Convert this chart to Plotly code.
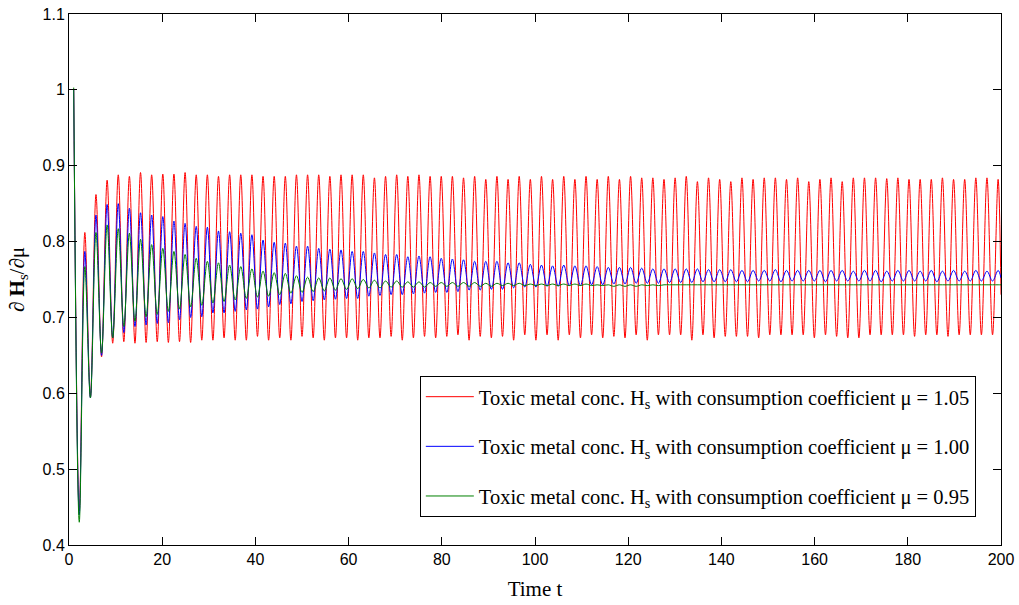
import plotly.graph_objects as go

# ---- Data ----
# Extrema (peaks and troughs) alternate on a regular time grid
FIRST_T = 1.01        # time of first extremum (initial value)
HALF_PERIOD = 1.195   # time between a peak and the next trough
END_T = 200.0

# mu = 1.05 (red)
red_peaks = [1.000, 0.812, 0.862, 0.881, 0.888, 0.886, 0.891, 0.888, 0.889, 0.889, 0.891, 0.888, 0.888,
             0.886, 0.888, 0.888, 0.888, 0.886, 0.886, 0.886, 0.888, 0.888, 0.888, 0.886, 0.888, 0.888,
             0.888, 0.884, 0.886, 0.888, 0.886, 0.888, 0.886, 0.886,
             0.886, 0.884, 0.886, 0.882, 0.886, 0.882, 0.886, 0.882, 0.886, 0.882, 0.886, 0.882, 0.886,
             0.882, 0.886, 0.882, 0.886, 0.884, 0.884, 0.882, 0.884, 0.886, 0.879, 0.884, 0.882, 0.879,
             0.884,
             0.882, 0.884, 0.884, 0.882, 0.884, 0.879, 0.882, 0.884, 0.879, 0.884, 0.884, 0.884, 0.883,
             0.884, 0.882, 0.882, 0.882, 0.884, 0.882, 0.882, 0.884, 0.884, 0.882]
red_troughs = [0.445, 0.595, 0.648, 0.666, 0.668, 0.666, 0.667, 0.668, 0.667, 0.668, 0.667,
               0.670, 0.670, 0.673, 0.670, 0.670, 0.675, 0.670, 0.673, 0.670, 0.675, 0.673, 0.670,
               0.673, 0.673, 0.670, 0.673, 0.673, 0.675, 0.670, 0.673, 0.675, 0.673, 0.675,
               0.677, 0.670, 0.675, 0.673, 0.675, 0.670, 0.677, 0.670, 0.677, 0.670, 0.677, 0.673,
               0.677, 0.673, 0.675, 0.673, 0.677, 0.670, 0.677, 0.677, 0.677, 0.670, 0.677, 0.673,
               0.675, 0.675, 0.675,
               0.673, 0.677, 0.677, 0.677, 0.677, 0.673, 0.677, 0.675, 0.673, 0.673, 0.677, 0.677,
               0.677, 0.677, 0.675, 0.677, 0.677, 0.675, 0.677, 0.677, 0.677, 0.677]
red_end = 0.730

# mu = 1.00 (blue)
blue_peaks = [1.000, 0.787, 0.835, 0.849, 0.850, 0.844, 0.838, 0.835, 0.833, 0.827, 0.824, 0.820, 0.819,
              0.814, 0.813, 0.811, 0.809, 0.802, 0.799, 0.798, 0.794, 0.794, 0.791, 0.790, 0.789, 0.787,
              0.787, 0.785, 0.783, 0.783, 0.780, 0.781, 0.780, 0.778,
              0.777, 0.776, 0.774, 0.774, 0.774, 0.772, 0.772, 0.770, 0.769, 0.768, 0.769, 0.768, 0.768,
              0.767, 0.766, 0.766, 0.766, 0.765, 0.764, 0.764, 0.764, 0.764, 0.764, 0.763, 0.763, 0.763,
              0.762,
              0.762, 0.762, 0.763, 0.762, 0.762, 0.762, 0.762, 0.762, 0.762, 0.761, 0.762, 0.762, 0.761,
              0.762, 0.762, 0.761, 0.762, 0.761, 0.762, 0.761, 0.762, 0.761, 0.762]
blue_troughs = [0.440, 0.594, 0.650, 0.673, 0.680, 0.688, 0.690, 0.692, 0.693, 0.697, 0.700,
                0.701, 0.706, 0.706, 0.708, 0.710, 0.711, 0.714, 0.717, 0.718, 0.721, 0.722, 0.723,
                0.724, 0.725, 0.725, 0.728, 0.729, 0.730, 0.730, 0.731, 0.732, 0.733, 0.733,
                0.734, 0.736, 0.736, 0.737, 0.737, 0.739, 0.740, 0.740, 0.741, 0.741, 0.742, 0.742,
                0.743, 0.743, 0.744, 0.744, 0.745, 0.745, 0.745, 0.746, 0.746, 0.746, 0.747, 0.747,
                0.747, 0.747, 0.747,
                0.748, 0.748, 0.747, 0.748, 0.748, 0.748, 0.747, 0.748, 0.748, 0.748, 0.748, 0.747,
                0.748, 0.748, 0.748, 0.748, 0.747, 0.748, 0.748, 0.748, 0.748, 0.748]
blue_end = 0.752

# mu = 0.95 (green)
green_peaks = [1.003, 0.767, 0.812, 0.822, 0.817, 0.811, 0.803, 0.796, 0.791, 0.787, 0.783, 0.778, 0.774,
               0.772, 0.769, 0.767, 0.764, 0.761, 0.759, 0.758, 0.755, 0.753, 0.752, 0.752, 0.751, 0.751,
               0.750, 0.749, 0.748, 0.748, 0.747, 0.747, 0.746, 0.746,
               0.746, 0.746, 0.746, 0.745, 0.745, 0.745, 0.745, 0.744, 0.744, 0.744, 0.744, 0.744, 0.744,
               0.743, 0.743, 0.743, 0.743, 0.743, 0.743, 0.743, 0.743, 0.743, 0.743, 0.743, 0.743, 0.743,
               0.743, 0.743, 0.743, 0.743, 0.743, 0.743, 0.743, 0.743, 0.743, 0.743, 0.743, 0.743, 0.743,
               0.743, 0.743, 0.743, 0.743, 0.743, 0.743, 0.743, 0.743, 0.743, 0.743, 0.743]
green_troughs = [0.430, 0.594, 0.653, 0.673, 0.688, 0.695, 0.701, 0.704, 0.708, 0.711, 0.714,
                 0.716, 0.719, 0.721, 0.723, 0.725, 0.727, 0.728, 0.730, 0.732, 0.733, 0.734, 0.735,
                 0.736, 0.737, 0.738, 0.739, 0.739, 0.740, 0.740, 0.740, 0.740, 0.741, 0.741,
                 0.741, 0.741, 0.741, 0.741, 0.742, 0.742, 0.742, 0.742, 0.742, 0.742, 0.742, 0.742,
                 0.742, 0.742, 0.741, 0.741, 0.741, 0.742, 0.742, 0.743, 0.743, 0.743, 0.743, 0.743,
                 0.743, 0.743, 0.743, 0.743, 0.743, 0.743, 0.743, 0.743, 0.743, 0.743, 0.743, 0.743,
                 0.743, 0.743, 0.743, 0.743, 0.743, 0.743, 0.743, 0.743, 0.743, 0.743, 0.743, 0.743,
                 0.743]
green_end = 0.743

series_names = [
    "Toxic metal conc. H<sub>s</sub> with consumption coefficient \u03bc = 1.05",
    "Toxic metal conc. H<sub>s</sub> with consumption coefficient \u03bc = 1.00",
    "Toxic metal conc. H<sub>s</sub> with consumption coefficient \u03bc = 0.95",
]
series_colors = ["#ff0000", "#0000ff", "#008000"]

x_ticks = [0, 20, 40, 60, 80, 100, 120, 140, 160, 180, 200]
y_ticks = [0.4, 0.5, 0.6, 0.7, 0.8, 0.9, 1.0, 1.1]
y_tick_text = ["0.4", "0.5", "0.6", "0.7", "0.8", "0.9", "1", "1.1"]


def build(peaks, troughs, end_val):
    ys = []
    for i in range(len(peaks) + len(troughs)):
        ys.append(peaks[i // 2] if i % 2 == 0 else troughs[i // 2])
    ts = [FIRST_T + i * HALF_PERIOD for i in range(len(ys))]
    ts.append(END_T)
    ys.append(end_val)
    return ts, ys


fig = go.Figure()
data = [(red_peaks, red_troughs, red_end),
        (blue_peaks, blue_troughs, blue_end),
        (green_peaks, green_troughs, green_end)]
for (p, tr, e), name, col in zip(data, series_names, series_colors):
    t, y = build(p, tr, e)
    fig.add_trace(go.Scatter(x=t, y=y, mode="lines", name=name, legendgroup=name,
                             line=dict(color=col, width=1, shape="spline", smoothing=1.0)))

axis_common = dict(showline=True, linecolor="black", linewidth=1, mirror="allticks",
                   ticks="inside", ticklen=8, tickcolor="black", showgrid=False, zeroline=False,
                   automargin=False,
                   tickfont=dict(family="Liberation Sans, Arial", size=16, color="black"))

fig.update_xaxes(range=[0, 200], tickvals=x_ticks,
                 title=dict(text="Time t", font=dict(family="Liberation Serif, Times New Roman", size=21, color="black"), standoff=14),
                 **axis_common)
fig.update_yaxes(range=[0.4, 1.1], tickvals=y_ticks, ticktext=y_tick_text,
                 title=dict(text="\u2202 <b>H</b><sub>s</sub>/\u2202\u03bc", font=dict(family="Liberation Serif, Times New Roman", size=21, color="black"), standoff=12),
                 **axis_common)

fig.update_layout(
    width=1019, height=605,
    margin=dict(l=69, r=18, t=14, b=60),
    paper_bgcolor="white", plot_bgcolor="white",
    showlegend=True,
    legend=dict(x=0.973, y=0.053, xanchor="right", yanchor="bottom",
                bgcolor="white", bordercolor="black", borderwidth=1,
                font=dict(family="Liberation Serif, Times New Roman", size=20.5, color="black"),
                tracegroupgap=20, itemwidth=48),
)

fig.write_html("out.html")
